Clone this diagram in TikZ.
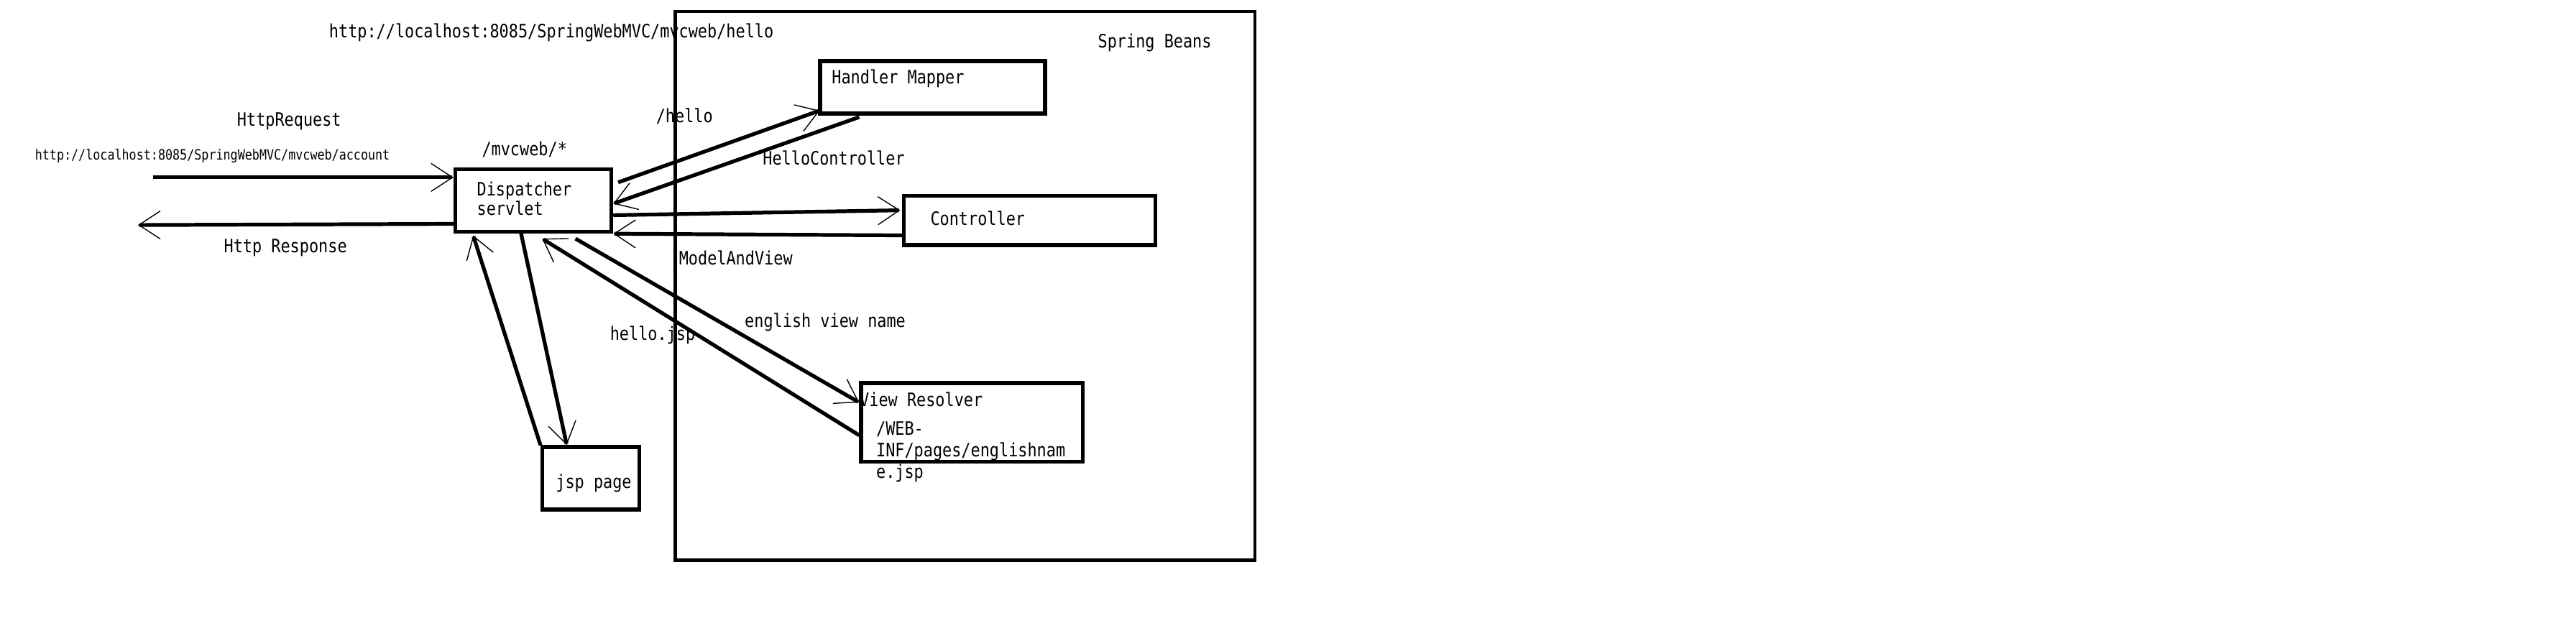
\documentclass[tikz,border=0pt]{standalone}
\usepackage{fontspec}
\usetikzlibrary{arrows.meta,calc}
\newfontfamily\paintfont[FakeStretch=0.85]{DejaVu Sans Mono}

\begin{document}
\begin{tikzpicture}[x=0.2mm,y=-0.2mm,
    box/.style={draw,line width=1.3pt,anchor=north west,inner sep=0pt},
    lbl/.style={anchor=west,inner sep=0pt,font=\paintfont\fontsize{6.4}{7}\selectfont},
    small/.style={lbl,font=\paintfont\fontsize{4.9}{5.5}\selectfont},
    flow/.style={line width=1.3pt,-{Straight Barb[length=2.6mm,width=3.4mm,line width=0.35pt]}}]
    \useasboundingbox (0,0) rectangle (1568,387);
    %\node[lbl] at (0,0) {};
    \node[box,line width=1.1pt,minimum width=70.6mm,minimum height=66.8mm] (beans) at (410,6) {};
    \node[box,minimum width=19mm,minimum height=7.6mm] (dsp) at (276,102) {};
    \node[box,minimum width=27.4mm,minimum height=6.4mm] (hm) at (498,36) {};
    \node[box,minimum width=30.6mm,minimum height=6mm] (ctl) at (549,118) {};
    \node[box,minimum width=27mm,minimum height=9.6mm] (vr) at (523,232) {};
    \node[box,minimum width=11.8mm,minimum height=7.6mm] (jsp) at (329,271) {};
    \coordinate (client_in) at (93,108);
    \coordinate (client_out) at (84,137);
    \node[lbl] (url_hello) at (200,20) {http://localhost:8085/SpringWebMVC/mvcweb/hello};
    \node[lbl] (beans_t) at (668,26) {Spring Beans};
    \node[lbl] (req_t) at (144,74) {HttpRequest};
    \node[small] (url_acc) at (21,95) {http://localhost:8085/SpringWebMVC/mvcweb/account};
    \node[lbl] (map_t) at (293,91) {/mvcweb/*};
    \node[lbl] (hello_t) at (399,71) {/hello};
    \node[lbl] (hc_t) at (464,96) {HelloController};
    \node[lbl] (resp_t) at (136,151) {Http Response};
    \node[lbl] (mav_t) at (413,157) {ModelAndView};
    \node[lbl] (evn_t) at (453,196) {english view name};
    \node[lbl] (hjsp_t) at (371,204) {hello.jsp};
    \node[lbl,align=left] (dsp_t) at (290,121) {Dispatcher\\[-0.4pt]servlet};
    \node[lbl] (hm_t) at (506,48) {Handler Mapper};
    \node[lbl] (ctl_t) at (566,133) {Controller};
    \node[lbl] (vr_t) at (523,243) {View Resolver};
    \node[lbl,align=left] (path_t) at (533,275) {/WEB-\\[0.4pt]INF/pages/englishnam\\[0.4pt]e.jsp};
    \node[lbl] (jsp_t) at (338,294) {jsp page};
    \draw[flow] (client_in) to ($(dsp.north west)+(0,6)$);
    \draw[flow] ($(dsp.south west)+(0,-6)$) to (client_out);
    \draw[flow] ($(dsp.north east)+(3,9)$) to ($(hm.south west)+(1,-3)$);
    \draw[flow] ($(hm.south west)+(25,1)$) to ($(dsp.north east)+(0,22)$);
    \draw[flow] ($(dsp.north east)+(0,29)$) to ($(ctl.north west)+(-1,10)$);
    \draw[flow] ($(ctl.south west)+(0,-7)$) to (dsp.south east);
    \draw[flow] ($(dsp.south east)+(-23,3)$) to ($(vr.north west)+(0,13)$);
    \draw[flow] ($(vr.north west)+(0,33)$) to ($(dsp.south west)+(54,3)$);
    \draw[flow] ($(dsp.south west)+(41,-1)$) to ($(jsp.north west)+(16,0)$);
    \draw[flow] (jsp.north west) to ($(dsp.south west)+(12,1)$);
\end{tikzpicture}
\end{document}
